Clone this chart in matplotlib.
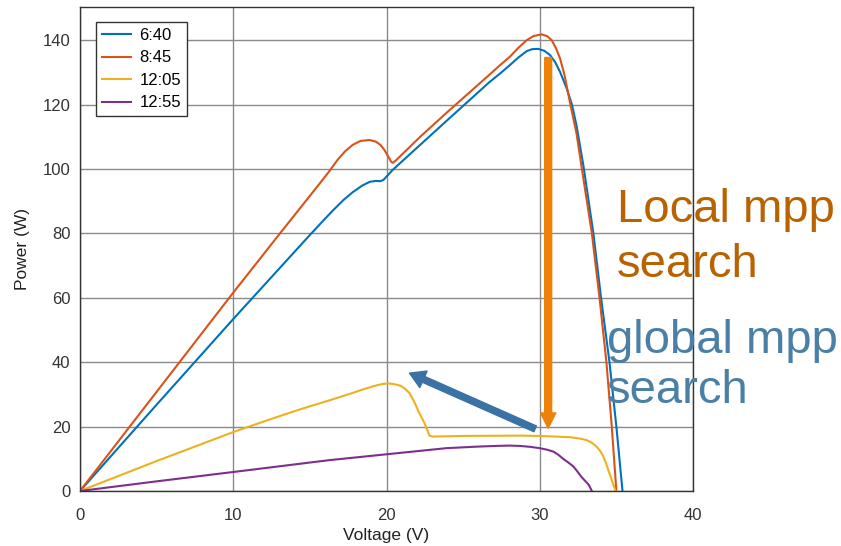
import matplotlib
matplotlib.use("Agg")
import matplotlib.pyplot as plt
from matplotlib.patches import FancyArrowPatch

plt.rcParams['font.family'] = ['Liberation Sans', 'DejaVu Sans']

# curve data (voltage V, power W)
v_640 = [0, 5, 10, 15, 16.0, 16.5, 17.2, 17.8, 18.4, 18.9, 19.3, 19.6, 19.8,
         20.4, 22.2, 24, 26.7, 27.5, 28.06, 28.6, 29.15, 29.5, 29.9, 30.3,
         30.67, 31.0, 31.32, 31.76, 32.1, 32.4, 32.85, 33.5, 34.0, 34.55,
         35.0, 35.4]
p_640 = [0, 26.8, 53.4, 79.5, 84.6, 87.1, 90.4, 92.8, 94.8, 96.0, 96.3, 96.2,
         96.6, 99.7, 107.5, 115.3, 126.9, 130.0, 132.3, 134.6, 136.6, 137.2,
         137.3, 136.7, 135.4, 133.2, 130.2, 125.0, 120.0, 113.5, 101.0, 80,
         60, 40, 20, 0]

v_845 = [0, 5, 10, 13.05, 15.66, 16.3, 16.8, 17.3, 17.8, 18.3, 18.9, 19.3,
         19.6, 19.85, 20.1, 20.3, 20.4, 20.6, 22.2, 24, 26.7, 27.4, 28.06,
         28.6, 29.15, 29.6, 30.13, 30.5, 30.78, 31.05, 31.32, 31.6, 32.0,
         32.4, 32.75, 33.4, 33.9, 34.35, 34.7, 35.0]
p_845 = [0, 30.8, 61.6, 80, 95.6, 99.5, 102.8, 105.5, 107.5, 108.7, 109.0,
         108.5, 107.5, 106.0, 104.0, 102.3, 101.9, 102.6, 110, 117.8, 129.2,
         132.2, 134.9, 137.6, 140.0, 141.3, 141.8, 141.2, 140.0, 137.6, 134.4,
         129.5, 120, 111, 100, 80, 60, 40, 20, 0]

v_1205 = [0, 5, 10, 12, 14, 15, 16.3, 17.5, 18.5, 19.2, 19.7, 20.1, 20.5,
          20.9, 21.2, 21.5, 21.8, 22.1, 22.5, 22.8, 23.0, 25.0, 28.7, 30.0,
          31.0, 32.0, 32.6, 33.06, 33.4, 33.7, 33.95, 34.15, 34.32, 34.47,
          34.65, 34.8, 34.95]
p_1205 = [0, 9.3, 18.3, 21.6, 24.8, 26.3, 28.2, 30.0, 31.6, 32.6, 33.2, 33.4,
          33.2, 32.7, 31.8, 30.4, 27.8, 24.6, 20.9, 17.2, 16.9, 17.1, 17.2,
          17.1, 16.9, 16.7, 16.3, 15.8, 15.0, 13.8, 12.4, 10.7, 8.7, 6.5, 4.1,
          1.9, 0]

v_1255 = [0, 5, 10, 16.3, 20.0, 23.9, 26.0, 27.2, 28.0, 28.7, 29.4, 30.0,
          30.5, 30.9, 31.2, 31.5, 31.85, 32.2, 32.45, 32.7, 32.95, 33.2, 33.4]
p_1255 = [0, 3.0, 5.9, 9.6, 11.4, 13.3, 13.8, 14.0, 14.1, 14.0, 13.7, 13.3,
          12.8, 12.2, 11.3, 10.1, 8.9, 7.6, 6.1, 4.5, 3.2, 1.9, 0]

labels = ['6:40', '8:45', '12:05', '12:55']
colors = ['#0072BD', '#D95319', '#EDB120', '#7E2F8E']

# annotation arrows (data coords)
local_arrow = ((30.55, 134.6), (30.55, 19.5))
global_arrow = ((29.7, 19.3), (21.5, 36.6))

fig = plt.figure(figsize=(8.41, 5.46), dpi=100)
ax = fig.add_axes([80 / 841, 1 - 491 / 546, 613 / 841, 484 / 546])

series = [(v_640, p_640), (v_845, p_845), (v_1205, p_1205), (v_1255, p_1255)]
for (v, p), lab, c in zip(series, labels, colors):
    ax.plot(v, p, color=c, lw=1.5, label=lab, solid_joinstyle='round')

ax.set_xlim(0, 40)
ax.set_ylim(0, 150.3)
ax.set_xticks(range(0, 41, 10))
ax.set_yticks(range(0, 141, 20))
ax.grid(True, color='#8a8a8a', lw=1)
ax.set_axisbelow(True)
ax.tick_params(length=0, labelsize=12, labelcolor='#333333')
ax.tick_params(axis='x', pad=12)
ax.tick_params(axis='y', pad=7)
for s in ax.spines.values():
    s.set_color('#333333')
    s.set_linewidth(1)

ax.set_xlabel('Voltage (V)', fontsize=12.5, color='#222222', labelpad=4)
ax.set_ylabel('Power (W)', fontsize=12.5, color='#222222', labelpad=9)

leg = ax.legend(loc='upper left', bbox_to_anchor=(0.026, 0.969),
                borderaxespad=0, fontsize=12, handlelength=1.75,
                labelspacing=0.45, handletextpad=0.5, borderpad=0.35,
                fancybox=False, framealpha=1)
leg.get_frame().set_edgecolor('#333333')
leg.get_frame().set_linewidth(1)

a1 = FancyArrowPatch(local_arrow[0], local_arrow[1],
                     arrowstyle='simple,head_width=11,head_length=11,tail_width=5',
                     mutation_scale=1, shrinkA=0, shrinkB=0,
                     color='#EE8208', zorder=5)
ax.add_patch(a1)
a2 = FancyArrowPatch(global_arrow[0], global_arrow[1],
                     arrowstyle='simple,head_width=13,head_length=11,tail_width=4.5',
                     mutation_scale=1, shrinkA=0, shrinkB=0,
                     color='#3A72A6', zorder=5)
ax.add_patch(a2)

# slide text on the right
fig.text(617 / 841, 1 - 222 / 546, 'Local mpp', fontsize=34, color='#B86200',
         va='baseline', ha='left')
fig.text(617 / 841, 1 - 277 / 546, 'search', fontsize=34, color='#B86200',
         va='baseline', ha='left')
fig.text(607 / 841, 1 - 353 / 546, 'global mpp', fontsize=34, color='#4A7FA6',
         va='baseline', ha='left')
fig.text(607 / 841, 1 - 403 / 546, 'search', fontsize=34, color='#4A7FA6',
         va='baseline', ha='left')

fig.savefig('out.png', dpi=100)
